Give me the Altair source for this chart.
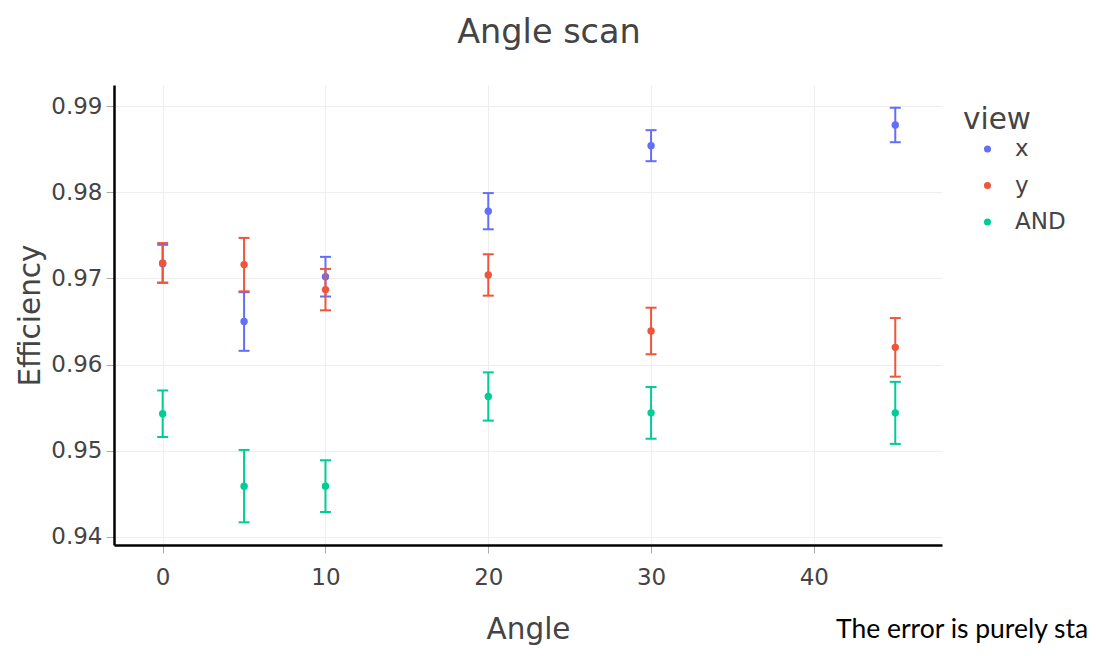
import altair as alt
import pandas as pd

# ---- data ----
angles = [0, 5, 10, 20, 30, 45]
views = ["x", "y", "AND"]
eff_x = [0.9717, 0.9650, 0.9702, 0.9778, 0.9854, 0.9878]
err_x = [0.0022, 0.0034, 0.0023, 0.0021, 0.0018, 0.0020]
eff_y = [0.9718, 0.9716, 0.9687, 0.9704, 0.9639, 0.9620]
err_y = [0.0023, 0.0031, 0.0024, 0.0024, 0.0027, 0.0034]
eff_and = [0.9543, 0.9459, 0.9459, 0.9563, 0.9544, 0.9544]
err_and = [0.0027, 0.0042, 0.0030, 0.0028, 0.0030, 0.0036]
x_ticks = [0, 10, 20, 30, 40]
y_ticks = [0.94, 0.95, 0.96, 0.97, 0.98, 0.99]
colors = ["#636efa", "#EF553B", "#00cc96"]
note = "The error is purely sta"

FONT = "DejaVu Sans"
GREY = "#444444"

series = {"x": (eff_x, err_x), "y": (eff_y, err_y), "AND": (eff_and, err_and)}
rows = []
for v in views:
    effs, errs = series[v]
    for a, e, s in zip(angles, effs, errs):
        rows.append({"angle": a, "view": v, "eff": e, "err": s,
                     "lo": e - s, "hi": e + s})
df = pd.DataFrame(rows)

xscale = alt.Scale(domain=[-2.99, 47.87], nice=False, zero=False)
yscale = alt.Scale(domain=[0.93907, 0.99244], nice=False, zero=False)
cscale = alt.Scale(domain=views, range=colors)

xaxis = alt.Axis(values=x_ticks, title="Angle", grid=True, gridColor="#eeeeee",
                 domainColor="black", domainWidth=2.5, tickColor="#aaaaaa",
                 tickSize=8, tickWidth=1, labelPadding=13, labelFontSize=23,
                 labelFont=FONT, labelColor=GREY, titleFont=FONT, titleFontSize=29.5,
                 titleFontWeight="normal", titleColor=GREY,
                 titleBaseline="alphabetic", titleY=93, labelFlush=False)
yaxis = alt.Axis(values=y_ticks, format=".2f", title="Efficiency", grid=True,
                 gridColor="#eeeeee", domainColor="black", domainWidth=2.5,
                 tickColor="#aaaaaa", tickSize=8, tickWidth=1, labelPadding=4,
                 labelFontSize=23, labelFont=FONT, labelColor=GREY,
                 titleFont=FONT, titleFontSize=29.5, titleFontWeight="normal",
                 titleColor=GREY, titleBaseline="alphabetic", titleX=-75,
                 titleY=230, titleAngle=-90, labelFlush=False)

layers = []
for i, v in enumerate(views):
    sub = alt.Chart(df).transform_filter(alt.datum.view == v)
    rule = sub.mark_rule(strokeWidth=2, color=colors[i]).encode(
        x=alt.X("angle:Q", scale=xscale, axis=xaxis),
        y=alt.Y("lo:Q", scale=yscale, axis=yaxis),
        y2="hi:Q",
    )
    cap_lo = sub.mark_tick(orient="horizontal", size=11, thickness=2,
                           color=colors[i], opacity=1).encode(
        x=alt.X("angle:Q", scale=xscale), y=alt.Y("lo:Q", scale=yscale))
    cap_hi = sub.mark_tick(orient="horizontal", size=11, thickness=2,
                           color=colors[i], opacity=1).encode(
        x=alt.X("angle:Q", scale=xscale), y=alt.Y("hi:Q", scale=yscale))
    pts = sub.mark_circle(size=55, opacity=1).encode(
        x=alt.X("angle:Q", scale=xscale),
        y=alt.Y("eff:Q", scale=yscale),
        color=alt.Color("view:N", scale=cscale, legend=alt.Legend(
            orient="none", legendX=849, legendY=21, title="view",
            titleFont=FONT, titleFontSize=29.5, titleFontWeight="normal",
            titleColor=GREY, titlePadding=2, labelFont=FONT, labelFontSize=23,
            labelColor=GREY, symbolType="circle", symbolSize=50,
            symbolStrokeWidth=0, symbolOpacity=1, symbolOffset=13,
            labelOffset=16, rowPadding=12.5, padding=0)),
    )
    layers += [rule, cap_lo, cap_hi, pts]

ann = alt.Chart(pd.DataFrame({"t": [note]})).mark_text(
    align="left", baseline="alphabetic", font="Lato", fontSize=26.5,
    color="black").encode(x=alt.value(722), y=alt.value(553), text="t:N")
layers.append(ann)

chart = alt.layer(*layers).properties(
    width=828, height=460,
    title=alt.TitleParams("Angle scan", font=FONT, fontSize=33.5,
                          fontWeight="normal", color=GREY, anchor="middle",
                          baseline="alphabetic", offset=9, dx=21),
    autosize=alt.AutoSizeParams(type="none"),
    padding={"left": 106, "top": 77, "right": 146, "bottom": 100},
).configure_view(stroke=None)

chart.save("out.html", embed_options={"renderer": "svg", "actions": False})
